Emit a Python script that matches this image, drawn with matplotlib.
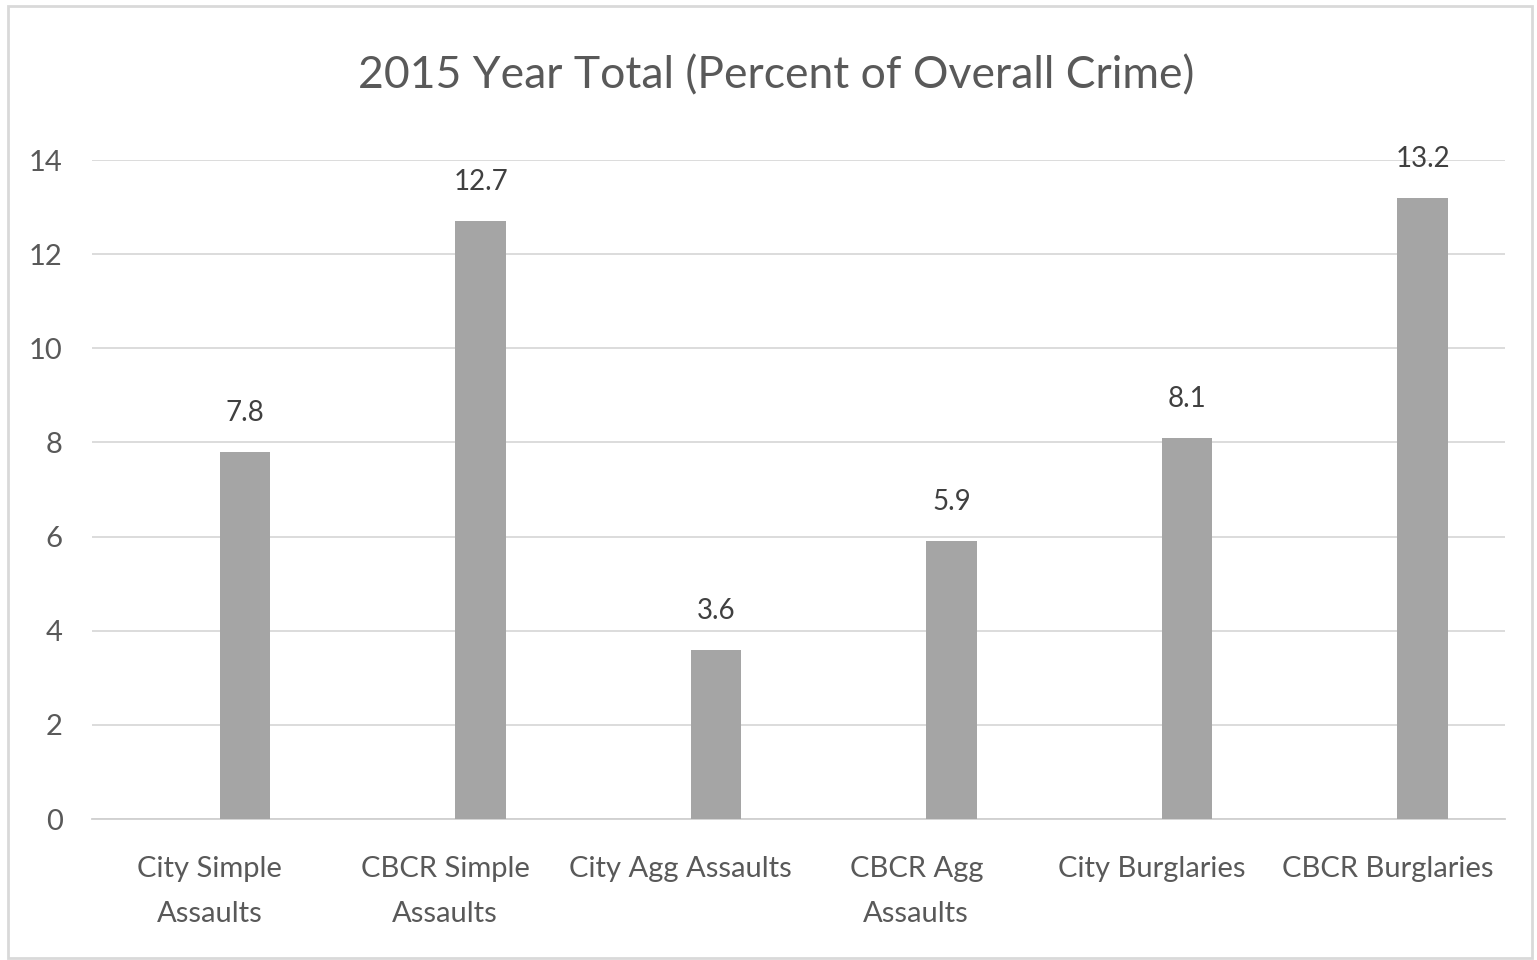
import numpy as np
import matplotlib.pyplot as plt
from matplotlib.patches import Rectangle

categories = ["City Simple\nAssaults", "CBCR Simple\nAssaults", "City Agg Assaults",
              "CBCR Agg\nAssaults", "City Burglaries", "CBCR Burglaries"]
values = [7.8, 12.7, 3.6, 5.9, 8.1, 13.2]
yticks = [0, 2, 4, 6, 8, 10, 12, 14]

txt = "#595959"
plt.rcParams["font.family"] = ["Lato", "DejaVu Sans"]

fig = plt.figure(figsize=(15.37, 9.6), dpi=100)
ax = fig.add_axes([92 / 1537, 1 - 819 / 960, (1505 - 92) / 1537, (819 - 160) / 960])

x = np.arange(len(values))
bars = ax.bar(x + 0.15, values, width=0.215, color="#a5a5a5", zorder=3)
for b, v in zip(bars, values):
    ax.annotate(f"{v}", (b.get_x() + b.get_width() / 2, v), xytext=(0, 28),
                textcoords="offset points", ha="center", va="center",
                fontsize=20, color="#404040")

ax.set_xlim(-0.5, len(values) - 0.5)
ax.set_ylim(0, 14)
ax.set_yticks(yticks)
ax.set_xticks(x)
ax.set_xticklabels(categories, fontsize=21, color=txt, linespacing=1.9)
ax.tick_params(axis="y", labelsize=21, labelcolor=txt, length=0, pad=21)
ax.tick_params(axis="x", length=0, pad=27)
ax.yaxis.grid(True, color="#d9d9d9", linewidth=1.3, zorder=0)
for s in ["top", "right", "left"]:
    ax.spines[s].set_visible(False)
ax.spines["bottom"].set_color("#d0d0d0")
ax.spines["bottom"].set_linewidth(1.3)

fig.text(776 / 1537, 1 - 76 / 960, "2015 Year Total (Percent of Overall Crime)",
         ha="center", va="center", fontsize=32, color=txt)

fig.patches.append(Rectangle((8 / 1537, 2 / 960), 1524 / 1537, 952 / 960,
                             transform=fig.transFigure, fill=False,
                             edgecolor="#d9d9d9", linewidth=2))

fig.savefig("out.png", dpi=100)
